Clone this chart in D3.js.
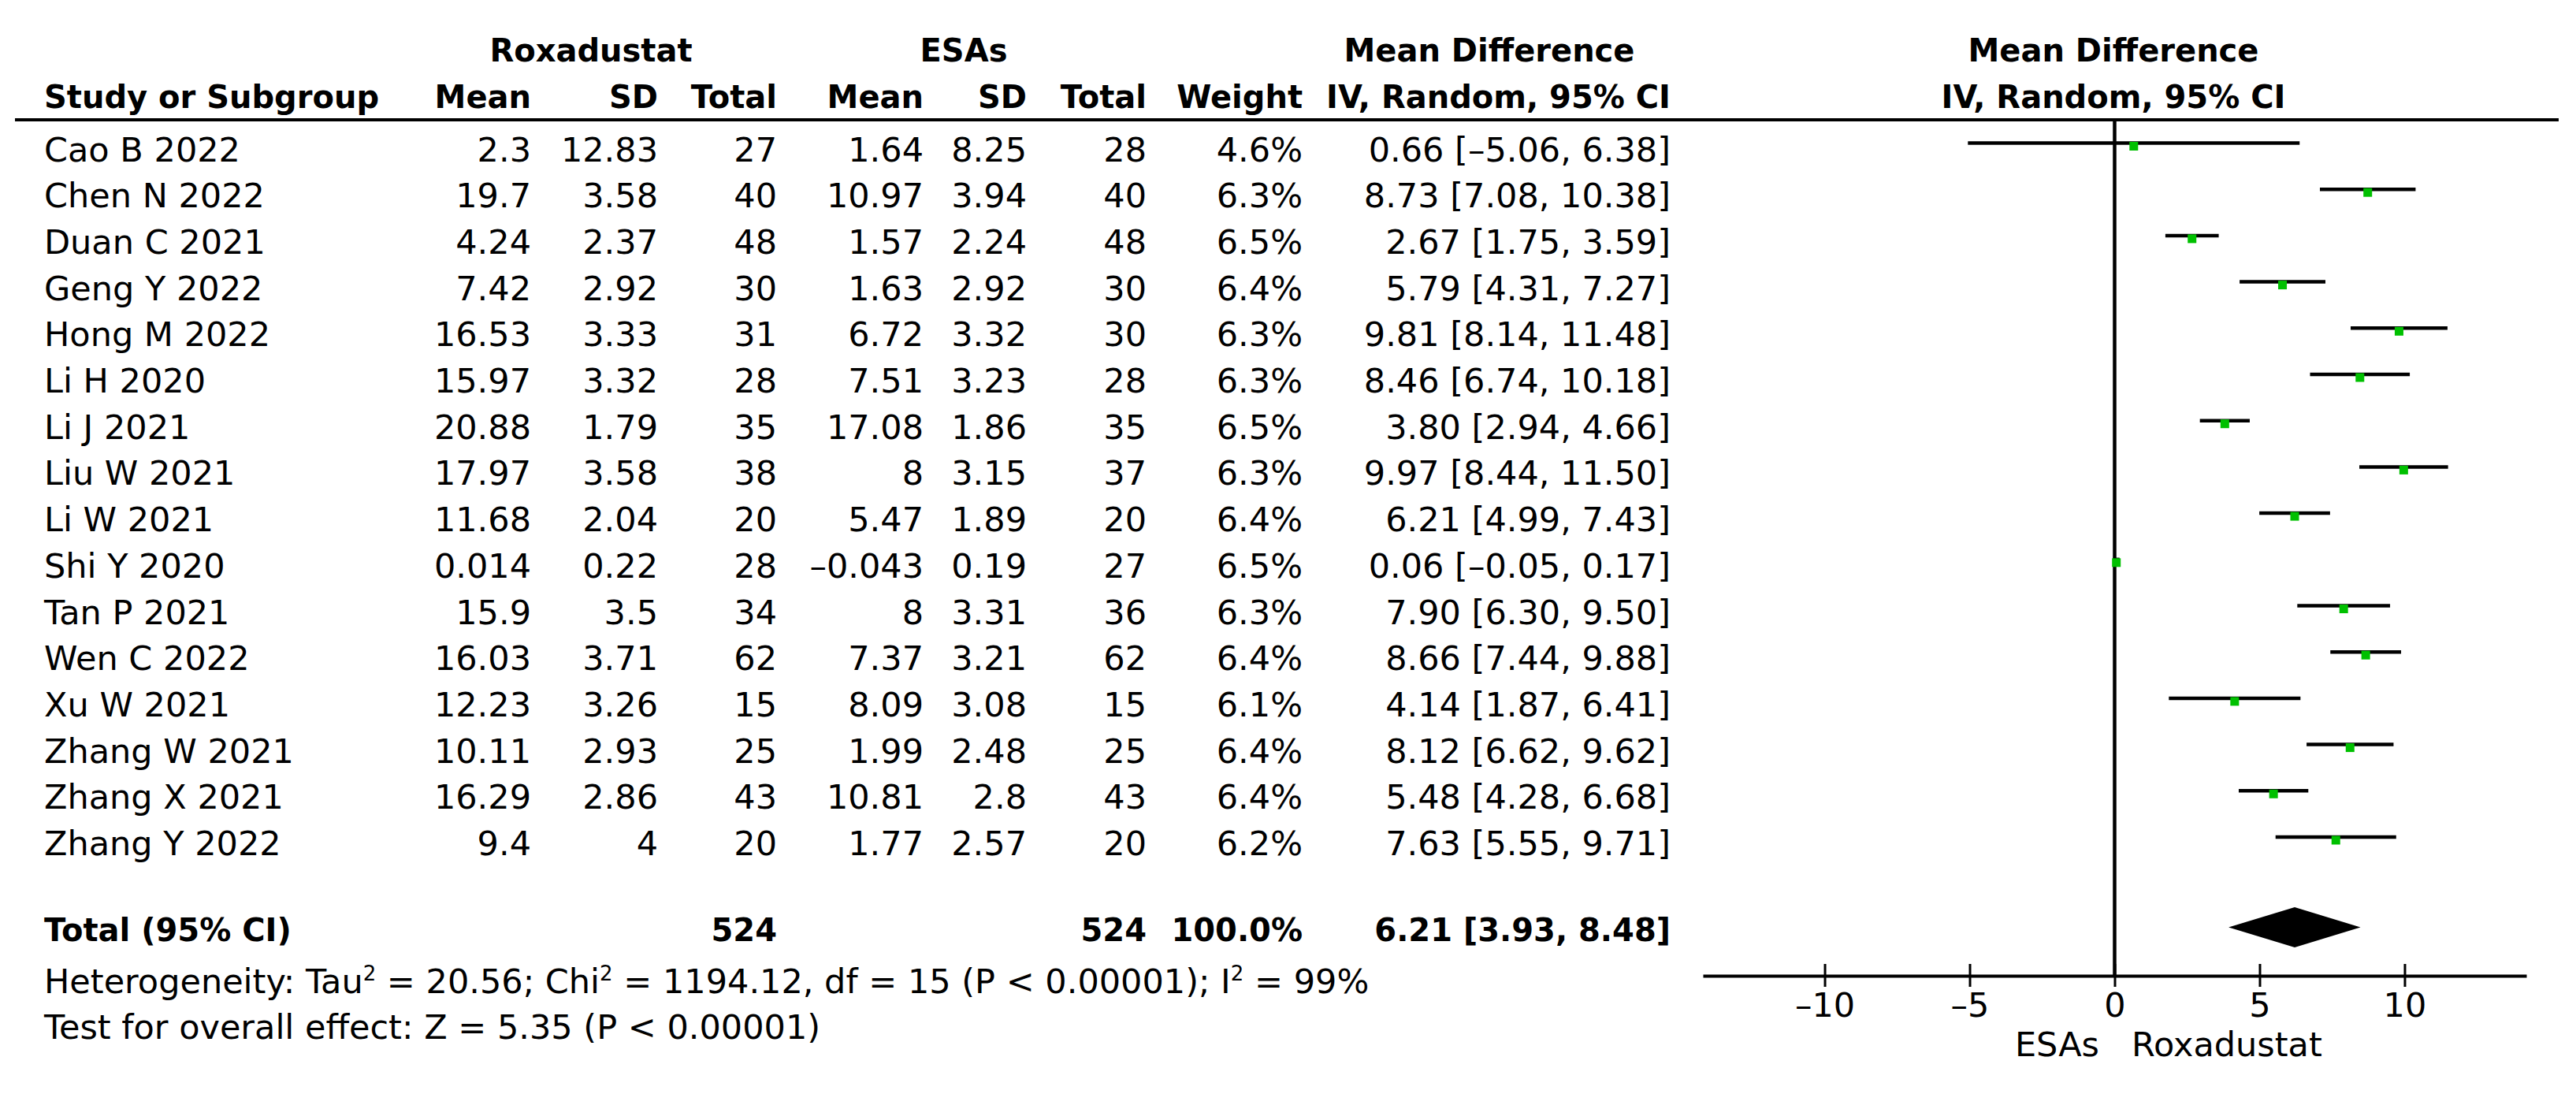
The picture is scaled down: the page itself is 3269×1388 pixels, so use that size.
<!DOCTYPE html>
<html>
<head>
<meta charset="utf-8">
<script src="https://cdn.jsdelivr.net/npm/d3@7"></script>
<style>
body { margin: 0; background: #fff; }
svg text { font-family: "DejaVu Sans", Verdana, sans-serif; fill: #000; }
</style>
</head>
<body>
<svg id="chart"></svg>
<script>
var width = 3269,
	height = 1388;

// data
var studies = ["Cao B 2022", "Chen N 2022", "Duan C 2021", "Geng Y 2022", "Hong M 2022", "Li H 2020", "Li J 2021", "Liu W 2021",
	"Li W 2021", "Shi Y 2020", "Tan P 2021", "Wen C 2022", "Xu W 2021", "Zhang W 2021", "Zhang X 2021", "Zhang Y 2022"];
var roxMean = [2.3, 19.7, 4.24, 7.42, 16.53, 15.97, 20.88, 17.97, 11.68, 0.014, 15.9, 16.03, 12.23, 10.11, 16.29, 9.4];
var roxSD = [12.83, 3.58, 2.37, 2.92, 3.33, 3.32, 1.79, 3.58, 2.04, 0.22, 3.5, 3.71, 3.26, 2.93, 2.86, 4];
var roxN = [27, 40, 48, 30, 31, 28, 35, 38, 20, 28, 34, 62, 15, 25, 43, 20];
var esaMean = [1.64, 10.97, 1.57, 1.63, 6.72, 7.51, 17.08, 8, 5.47, -0.043, 8, 7.37, 8.09, 1.99, 10.81, 1.77];
var esaSD = [8.25, 3.94, 2.24, 2.92, 3.32, 3.23, 1.86, 3.15, 1.89, 0.19, 3.31, 3.21, 3.08, 2.48, 2.8, 2.57];
var esaN = [28, 40, 48, 30, 30, 28, 35, 37, 20, 27, 36, 62, 15, 25, 43, 20];
var weights = [4.6, 6.3, 6.5, 6.4, 6.3, 6.3, 6.5, 6.3, 6.4, 6.5, 6.3, 6.4, 6.1, 6.4, 6.4, 6.2];
var md = [0.66, 8.73, 2.67, 5.79, 9.81, 8.46, 3.80, 9.97, 6.21, 0.06, 7.90, 8.66, 4.14, 8.12, 5.48, 7.63];
var ciLow = [-5.06, 7.08, 1.75, 4.31, 8.14, 6.74, 2.94, 8.44, 4.99, -0.05, 6.30, 7.44, 1.87, 6.62, 4.28, 5.55];
var ciHigh = [6.38, 10.38, 3.59, 7.27, 11.48, 10.18, 4.66, 11.50, 7.43, 0.17, 9.50, 9.88, 6.41, 9.62, 6.68, 9.71];
var total = { roxN: 524, esaN: 524, weight: "100.0%", md: 6.21, lo: 3.93, hi: 8.48 };
var xTicks = [-10, -5, 0, 5, 10];

// RevMan prints negatives with a short dash
var dash = function(s) { return String(s).replace("-", "\u2013"); };
var f2 = function(v) { return dash(v.toFixed(2)); };

var svg = d3.select("#chart").attr("width", width).attr("height", height);
svg.append("rect").attr("width", width).attr("height", height).attr("fill", "#fff");

var x = d3.scaleLinear().domain([-14.2, 14.2]).range([2161, 3206]);
var y = d3.scaleLinear().domain([0, 15]).range([181.5, 1062]);
var fs = 43, fsb = 40;

// column right edges
var cols = [
	{ x: 674, head: "Mean", vals: roxMean.map(dash) },
	{ x: 835, head: "SD", vals: roxSD.map(dash) },
	{ x: 986, head: "Total", vals: roxN.map(String) },
	{ x: 1172, head: "Mean", vals: esaMean.map(dash) },
	{ x: 1303, head: "SD", vals: esaSD.map(dash) },
	{ x: 1455, head: "Total", vals: esaN.map(String) },
	{ x: 1653, head: "Weight", vals: weights.map(function(w) { return w.toFixed(1) + "%"; }) },
	{ x: 2120, head: "IV, Random, 95% CI", vals: md.map(function(m, i) { return f2(m) + " [" + f2(ciLow[i]) + ", " + f2(ciHigh[i]) + "]"; }) }
];

// headers
var head1 = [["Roxadustat", 750], ["ESAs", 1223], ["Mean Difference", 1890], ["Mean Difference", 2682]];
svg.selectAll(".h1").data(head1).enter().append("text")
	.attr("x", function(d) { return d[1]; }).attr("y", 78)
	.attr("text-anchor", "middle").attr("font-weight", "bold").attr("font-size", fsb)
	.text(function(d) { return d[0]; });
svg.append("text").attr("x", 56).attr("y", 137).attr("font-weight", "bold").attr("font-size", fsb).text("Study or Subgroup");
svg.selectAll(".h2").data(cols).enter().append("text")
	.attr("x", function(d) { return d.x; }).attr("y", 137)
	.attr("text-anchor", "end").attr("font-weight", "bold").attr("font-size", fsb)
	.text(function(d) { return d.head; });
svg.append("text").attr("x", 2682).attr("y", 137).attr("text-anchor", "middle")
	.attr("font-weight", "bold").attr("font-size", fsb).text("IV, Random, 95% CI");

svg.append("line").attr("x1", 19).attr("x2", 3247).attr("y1", 152).attr("y2", 152)
	.attr("stroke", "#000").attr("stroke-width", 4);

// study rows
svg.selectAll(".study").data(studies).enter().append("text")
	.attr("x", 56).attr("y", function(d, i) { return y(i) + 23; })
	.attr("font-size", fs).text(function(d) { return d; });
cols.forEach(function(c) {
	svg.selectAll(null).data(c.vals).enter().append("text")
		.attr("x", c.x).attr("y", function(d, i) { return y(i) + 23; })
		.attr("text-anchor", "end").attr("font-size", fs).text(function(d) { return d; });
});

// total row
svg.append("text").attr("x", 56).attr("y", 1194).attr("font-weight", "bold").attr("font-size", fsb).text("Total (95% CI)");
var totVals = [[986, total.roxN], [1455, total.esaN], [1653, total.weight],
	[2120, f2(total.md) + " [" + f2(total.lo) + ", " + f2(total.hi) + "]"]];
svg.selectAll(".tot").data(totVals).enter().append("text")
	.attr("x", function(d) { return d[0]; }).attr("y", 1194)
	.attr("text-anchor", "end").attr("font-weight", "bold").attr("font-size", fsb)
	.text(function(d) { return d[1]; });

// footnotes
var het = svg.append("text").attr("x", 56).attr("y", 1260).attr("font-size", fs);
het.append("tspan").text("Heterogeneity: Tau");
het.append("tspan").attr("dy", -16).attr("font-size", 26).text("2");
het.append("tspan").attr("dy", 16).text(" = 20.56; Chi");
het.append("tspan").attr("dy", -16).attr("font-size", 26).text("2");
het.append("tspan").attr("dy", 16).text(" = 1194.12, df = 15 (P < 0.00001); I");
het.append("tspan").attr("dy", -16).attr("font-size", 26).text("2");
het.append("tspan").attr("dy", 16).text(" = 99%");
svg.append("text").attr("x", 56).attr("y", 1318).attr("font-size", fs)
	.text("Test for overall effect: Z = 5.35 (P < 0.00001)");

// forest plot
svg.append("line").attr("x1", x(0)).attr("x2", x(0)).attr("y1", 152).attr("y2", 1238)
	.attr("stroke", "#000").attr("stroke-width", 4.5);

svg.selectAll(".ci").data(md).enter().append("line")
	.attr("x1", function(d, i) { return x(ciLow[i]); })
	.attr("x2", function(d, i) { return x(ciHigh[i]); })
	.attr("y1", function(d, i) { return y(i); })
	.attr("y2", function(d, i) { return y(i); })
	.attr("stroke", "#000").attr("stroke-width", 4.5);

svg.selectAll(".sq").data(md).enter().append("rect")
	.attr("x", function(d) { return x(d) - 5.5; })
	.attr("y", function(d, i) { return y(i) - 1.5; })
	.attr("width", 11).attr("height", 11)
	.attr("fill", "#00c000");

var yt = y(17) - 3;
svg.append("path")
	.attr("d", "M" + x(total.lo) + "," + yt + "L" + x(total.md) + "," + (yt - 25.5) +
		"L" + x(total.hi) + "," + yt + "L" + x(total.md) + "," + (yt + 25.5) + "Z")
	.attr("fill", "#000");

var axis = svg.append("g").attr("transform", "translate(0,1238)")
	.call(d3.axisBottom(x).tickValues(xTicks).tickSizeOuter(0).tickFormat(dash));
axis.select(".domain").attr("stroke-width", 4);
axis.selectAll(".tick line").attr("y1", -15).attr("y2", 14).attr("stroke-width", 3);
axis.selectAll(".tick text").attr("y", 52).attr("dy", 0)
	.attr("font-size", fs).attr("font-family", "DejaVu Sans, Verdana, sans-serif");
axis.attr("font-size", null).attr("font-family", null);

svg.append("text").attr("x", 2664).attr("y", 1340).attr("text-anchor", "end").attr("font-size", fs).text("ESAs");
svg.append("text").attr("x", 2705).attr("y", 1340).attr("font-size", fs).text("Roxadustat");
</script>
</body>
</html>
